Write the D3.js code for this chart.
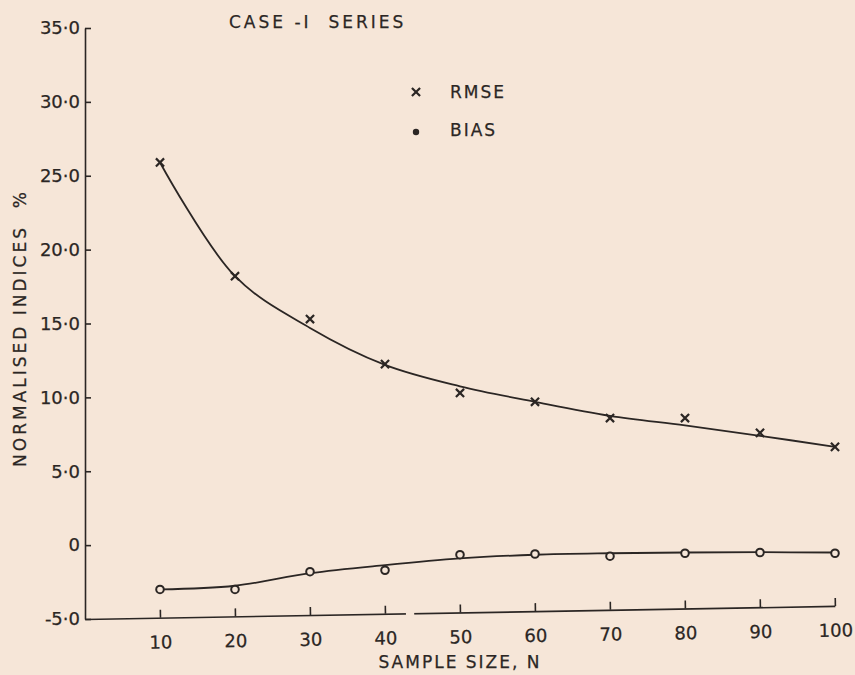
<!DOCTYPE html>
<html>
<head>
<meta charset="utf-8">
<script src="https://cdn.jsdelivr.net/npm/d3@7"></script>
<style>
  body { margin: 0; background: #f6e6d8; }
  svg { display: block; }
  text { font-family: 'DejaVu Sans', sans-serif; fill: #2b2624; stroke: #2b2624; stroke-width: 0.25; }
</style>
</head>
<body>
<svg id="chart" width="855" height="675"></svg>
<script>
// values
const sampleSize = [10, 20, 30, 40, 50, 60, 70, 80, 90, 100];
const rmse = [25.9, 18.2, 15.3, 12.25, 10.3, 9.7, 8.6, 8.6, 7.6, 6.65];
const bias = [-3.0, -3.0, -1.8, -1.7, -0.65, -0.6, -0.75, -0.55, -0.5, -0.55];
// hand drawn smooth curves through the points
const rmseFit = [25.9, 18.2, 14.7, 12.2, 10.75, 9.7, 8.75, 8.1, 7.4, 6.65];
const biasFit = [-3.0, -2.75, -1.9, -1.35, -0.9, -0.65, -0.55, -0.5, -0.48, -0.5];
const yTicks = [-5, 0, 5, 10, 15, 20, 25, 30, 35];
const yTickLabels = ['-5·0', '0', '5·0', '10·0', '15·0', '20·0', '25·0', '30·0', '35·0'];
const legendItems = ['RMSE', 'BIAS'];

const ink = '#2b2624',
      paper = '#f6e6d8';

const svg = d3.select('#chart');

//scales
const x = d3.scaleLinear().domain([0, 100]).range([85, 835]);
const y = d3.scaleLinear().domain([-5, 35]).range([619, 28]);

//y axis, ticks point inward
const yAxis = svg.append('g')
    .attr('transform', `translate(${x(0)}, 0)`)
    .call(d3.axisLeft(y)
        .tickValues(yTicks)
        .tickSize(-6)
        .tickSizeOuter(0)
        .tickPadding(5)
        .tickFormat((d, i) => yTickLabels[i]));

//x axis, slightly tilted like the scanned page
const xAxis = svg.append('g')
    .attr('transform', `translate(0, ${y(-5)}) rotate(-1, ${x(0)}, 0)`)
    .call(d3.axisBottom(x)
        .tickValues(sampleSize)
        .tickSize(-8)
        .tickSizeOuter(0)
        .tickPadding(18));

// small break in the drawn axis between 40 and 50
xAxis.append('rect')
    .attr('x', x(42.8))
    .attr('y', -2)
    .attr('width', x(43.9) - x(42.8))
    .attr('height', 4)
    .attr('fill', paper);

svg.selectAll('.domain, .tick line')
    .attr('stroke', ink)
    .attr('stroke-width', 1.6);

svg.selectAll('.tick text')
    .attr('font-size', 18)
    .attr('fill', ink);

//curves
const line = d3.line()
    .x((d, i) => x(sampleSize[i]))
    .y(d => y(d))
    .curve(d3.curveCatmullRom.alpha(0.5));

svg.append('path')
    .attr('d', line(rmseFit))
    .attr('fill', 'none')
    .attr('stroke', ink)
    .attr('stroke-width', 1.8);

svg.append('path')
    .attr('d', line(biasFit))
    .attr('fill', 'none')
    .attr('stroke', ink)
    .attr('stroke-width', 1.8);

//markers
const cross = d3.symbol().type(d3.symbolX).size(45);

svg.selectAll('.rmse')
    .data(rmse)
    .join('path')
    .attr('class', 'rmse')
    .attr('d', cross)
    .attr('transform', (d, i) => `translate(${x(sampleSize[i])}, ${y(d)})`)
    .attr('fill', 'none')
    .attr('stroke', ink)
    .attr('stroke-width', 2.2);

svg.selectAll('.bias')
    .data(bias)
    .join('circle')
    .attr('class', 'bias')
    .attr('cx', (d, i) => x(sampleSize[i]))
    .attr('cy', d => y(d))
    .attr('r', 3.8)
    .attr('fill', paper)
    .attr('stroke', ink)
    .attr('stroke-width', 2);

//legend
const legend = svg.append('g').attr('transform', 'translate(416, 92)');

legend.append('path')
    .attr('d', cross)
    .attr('fill', 'none')
    .attr('stroke', ink)
    .attr('stroke-width', 2.2);

legend.append('circle')
    .attr('cy', 40)
    .attr('r', 3.2)
    .attr('fill', ink);

legend.selectAll('text')
    .data(legendItems)
    .join('text')
    .attr('x', 34)
    .attr('y', (d, i) => i * 38)
    .attr('dy', '0.36em')
    .attr('font-size', 17)
    .attr('letter-spacing', 2)
    .text(d => d);

//titles
svg.append('text')
    .attr('x', 229)
    .attr('y', 28)
    .attr('font-size', 17)
    .attr('letter-spacing', 3)
    .attr('xml:space', 'preserve')
    .text('CASE -I  SERIES');

svg.append('text')
    .attr('x', x(50))
    .attr('y', 668)
    .attr('text-anchor', 'middle')
    .attr('font-size', 17)
    .attr('letter-spacing', 2)
    .text('SAMPLE SIZE, N');

svg.append('text')
    .attr('transform', 'translate(26, 328) rotate(-90)')
    .attr('text-anchor', 'middle')
    .attr('font-size', 17)
    .attr('letter-spacing', 3)
    .attr('xml:space', 'preserve')
    .text('NORMALISED INDICES  %');
</script>
</body>
</html>
